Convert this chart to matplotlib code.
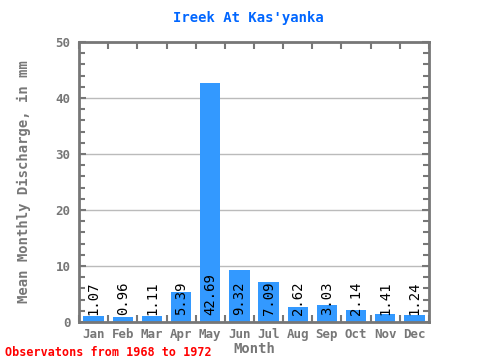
import matplotlib
matplotlib.use("Agg")
import matplotlib.pyplot as plt
from matplotlib.ticker import MultipleLocator, FixedLocator

months = ["Jan", "Feb", "Mar", "Apr", "May", "Jun", "Jul", "Aug", "Sep", "Oct", "Nov", "Dec"]
values = [1.07, 0.96, 1.11, 5.39, 42.69, 9.32, 7.09, 2.62, 3.03, 2.14, 1.41, 1.24]
yticks = [0, 10, 20, 30, 40, 50]

FONT = "DejaVu Sans Mono"
AX = "#777777"

fig = plt.figure(figsize=(4.8, 3.6), dpi=100)
ax = fig.add_axes([79/480, 1 - 322/360, 350/480, 280/360])

x = list(range(len(months)))
ax.bar(x, values, width=0.7, color="#3399ff", zorder=2)
for xi, v in zip(x, values):
    ax.text(xi, 1.3, f"{v:.2f}", rotation=90, ha="center", va="bottom",
            fontsize=10, family=FONT, color="black", zorder=3)

ax.set_xlim(-0.5, 11.5)
ax.set_ylim(0, 50)
ax.set_yticks(yticks)
ax.yaxis.set_minor_locator(MultipleLocator(2))
ax.set_xticks(x)
ax.set_xticklabels(months)
ax.xaxis.set_minor_locator(FixedLocator([i + 0.5 for i in range(-1, 12)]))
ax.grid(axis="y", which="major", color="#bbbbbb", linewidth=1, zorder=0)

for s in ax.spines.values():
    s.set_color(AX)
    s.set_linewidth(2)

ax.tick_params(axis="y", which="both", direction="in", left=True, right=True,
               color=AX, width=1.5, labelcolor=AX, labelsize=9)
ax.tick_params(axis="y", which="major", length=5, pad=6)
ax.tick_params(axis="y", which="minor", length=4)
ax.tick_params(axis="x", which="major", length=0, labelcolor=AX, labelsize=9, pad=4)
ax.tick_params(axis="x", which="minor", direction="in", top=True, bottom=True,
               length=5, color=AX, width=1.5)
for lab in ax.get_xticklabels() + ax.get_yticklabels():
    lab.set_family(FONT)
    lab.set_fontweight("bold")

ax.set_xlabel("Month", family=FONT, fontweight="bold", fontsize=10, color=AX, labelpad=1)
ax.set_ylabel("Mean Monthly Discharge, in mm", family=FONT, fontweight="bold",
              fontsize=10, color=AX, labelpad=18)
fig.text(248/480, 1 - 18/360, "Ireek At Kas'yanka", ha="center", va="center",
         family=FONT, fontweight="bold", fontsize=10, color="#0066ff")
fig.text(5/480, 1 - 352/360, "Observatons from 1968 to 1972", ha="left", va="center",
         family=FONT, fontweight="bold", fontsize=8.5, color="#ff0000")

fig.savefig("out.png", dpi=100)
